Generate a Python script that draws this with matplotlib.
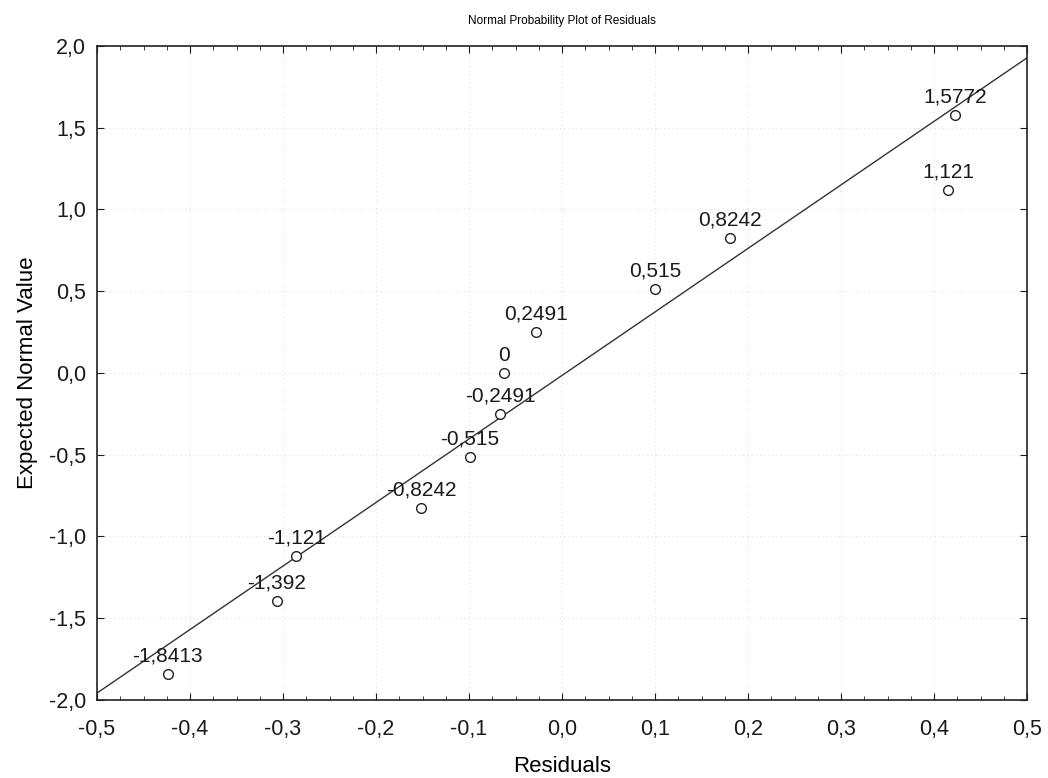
import matplotlib
matplotlib.use("Agg")
import numpy as np
import matplotlib.pyplot as plt
from matplotlib.ticker import FuncFormatter, MultipleLocator

plt.rcParams["font.family"] = ["Liberation Sans", "DejaVu Sans"]

# residuals (x) and expected normal values (y)
residuals = [-0.424, -0.3065, -0.286, -0.1516, -0.099, -0.0667, -0.0624,
             -0.028, 0.100, 0.181, 0.415, 0.4226]
expected = [-1.8413, -1.392, -1.121, -0.8242, -0.515, -0.2491, 0.0,
            0.2491, 0.515, 0.8242, 1.121, 1.5772]
point_labels = ["-1,8413", "-1,392", "-1,121", "-0,8242", "-0,515", "-0,2491",
                "0", "0,2491", "0,515", "0,8242", "1,121", "1,5772"]

# reference line: y = intercept + slope * x
line_intercept = -0.015
line_slope = 3.885

comma = FuncFormatter(lambda v, _: f"{v:.1f}".replace(".", ","))

fig = plt.figure(figsize=(10.48, 7.78), dpi=100)
ax = fig.add_axes([0.0926, 0.1003, 0.8874, 0.8406])

xs = np.array([-0.5, 0.5])
ax.plot(xs, line_intercept + line_slope * xs, color="#333333", lw=1.0)

ax.plot(residuals, expected, "o", mfc="white", mec="#222222", mew=1.0,
        ms=7, zorder=3)
for x, y, s in zip(residuals, expected, point_labels):
    ax.annotate(s, (x, y), xytext=(0, 6), textcoords="offset points",
                ha="center", va="bottom", fontsize=15, color="#1a1a1a")

ax.set_xlim(-0.5, 0.5)
ax.set_ylim(-2.0, 2.0)
ax.xaxis.set_major_locator(MultipleLocator(0.1))
ax.xaxis.set_minor_locator(MultipleLocator(0.025))
ax.yaxis.set_major_locator(MultipleLocator(0.5))
ax.xaxis.set_major_formatter(comma)
ax.yaxis.set_major_formatter(comma)
ax.tick_params(which="both", direction="in", top=True, right=True,
               labelsize=15.5, colors="#1a1a1a")
ax.tick_params(which="major", length=5)
ax.tick_params(which="minor", length=3)
ax.tick_params(axis="x", pad=14)
ax.tick_params(axis="y", pad=8)
ax.grid(True, which="major", color="#cccccc", linestyle=(0, (1, 4)), lw=0.6)

for sp in ax.spines.values():
    sp.set_color("#222222")
    sp.set_linewidth(1.2)

ax.set_title("Normal Probability Plot of Residuals", fontsize=8.5, pad=16)
ax.set_xlabel("Residuals", fontsize=16, labelpad=11)
ax.set_ylabel("Expected Normal Value", fontsize=16, labelpad=8)

fig.savefig("out.png", dpi=100)
